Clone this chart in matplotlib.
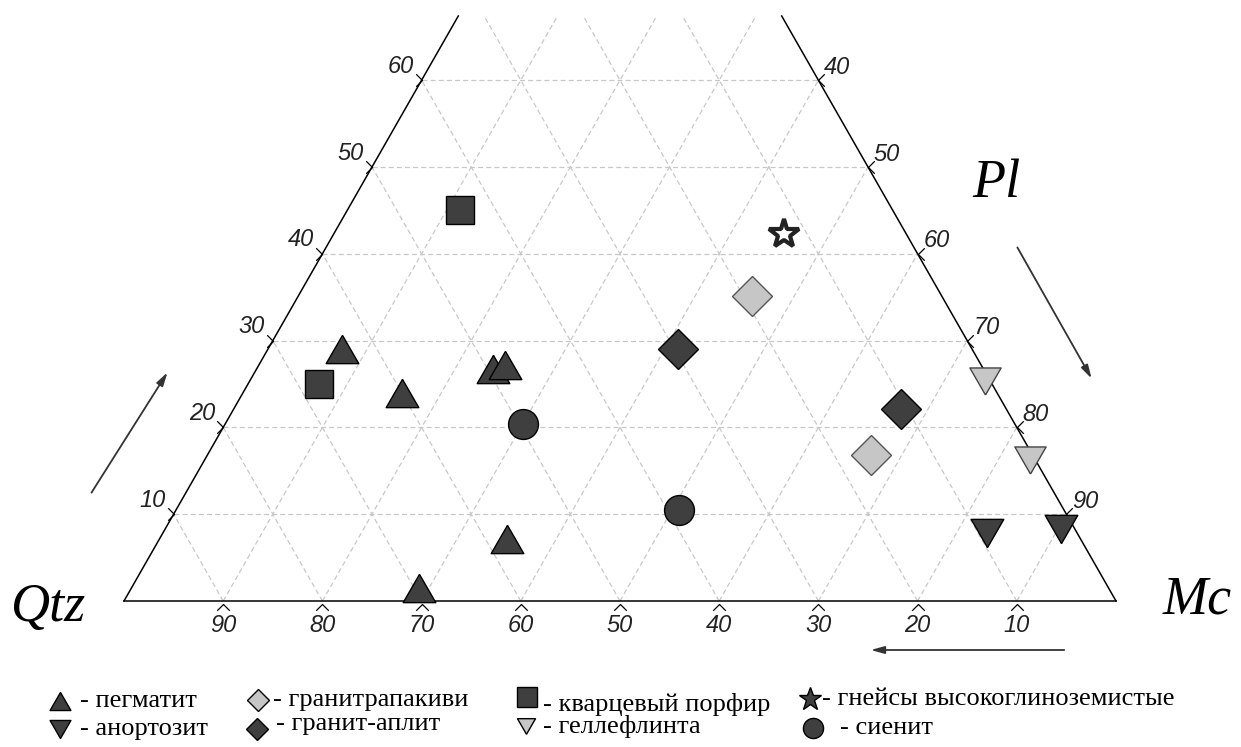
import numpy as np
import matplotlib
matplotlib.use("Agg")
import matplotlib.pyplot as plt
from matplotlib.path import Path

# ternary readings: (Qtz, Mc, Pl) in %
pegmatite = [(63.5, 7.5, 29.0), (60.0, 16.0, 24.0), (49.5, 23.8, 26.7),
             (48.0, 24.8, 27.2), (57.8, 35.1, 7.1), (69.5, 29.0, 1.5)]
anorthosite = [(9.1, 83.1, 7.8), (1.4, 90.3, 8.3)]
rapakivi = [(19.1, 45.8, 35.1), (16.3, 66.9, 16.8)]
aplite = [(29.7, 41.3, 29.0), (10.6, 67.3, 22.1)]
porphyry = [(43.6, 11.4, 45.0), (67.8, 7.2, 25.0)]
halleflinta = [(0.5, 74.1, 25.4), (0.5, 83.2, 16.3)]
gneiss = [(12.3, 45.4, 42.3)]
syenite = [(49.6, 30.0, 20.4), (38.8, 50.7, 10.5)]

grid_ticks = [10, 20, 30, 40, 50, 60, 70, 80, 90]
pl_max = 67.4

W, H = 1241, 747
DARK = "#3f3f3f"
LIGHT = "#c6c6c6"

tri_up = Path([(0, 0.866), (-1, -0.866), (1, -0.866), (0, 0.866)])
tri_dn = Path([(0, -0.866), (-1, 0.866), (1, 0.866), (0, -0.866)])
chev_up = Path([(-1, -1), (0, 0), (1, -1)], [Path.MOVETO, Path.LINETO, Path.LINETO])
chev_right = Path([(-1, 1), (0, 0), (-1, -1)], [Path.MOVETO, Path.LINETO, Path.LINETO])
chev_left = Path([(1, 1), (0, 0), (1, -1)], [Path.MOVETO, Path.LINETO, Path.LINETO])


def to_xy(pts):
    a = np.array(pts, dtype=float)
    return a[:, 1] + a[:, 2] / 2, a[:, 2]


def fpos(x, y):
    return x / W, 1 - y / H


fig = plt.figure(figsize=(W / 100, H / 100), dpi=100)
ax = fig.add_axes([0, 0, 1, 1])
ax.set_xlim(-124 / 9.92, (W - 124) / 9.92)
ax.set_ylim((601 - H) / 8.68, 601 / 8.68)
ax.axis("off")

# grid
gkw = dict(color="#c8c8c8", lw=0.9, ls=(0, (4, 2.5)), zorder=1)
for t in grid_ticks:
    if t < pl_max:
        ax.plot([t / 2, 100 - t / 2], [t, t], **gkw)
    top = min(100 - t, pl_max)
    ax.plot([t, t + top / 2], [0, top], **gkw)
    ax.plot([100 - t, 100 - t - top / 2], [0, top], **gkw)

# edges
ekw = dict(color="black", lw=1.1, zorder=2)
ax.plot([0, 100], [0, 0], **ekw)
ax.plot([0, pl_max / 2], [0, pl_max], **ekw)
ax.plot([100, 100 - pl_max / 2], [0, pl_max], **ekw)

# ticks and labels
tfont = dict(family=["Liberation Sans Narrow", "Liberation Sans"], style="italic",
             fontsize=17, color="#222222")
ckw = dict(ls="none", mfc="none", mec="black", mew=0.9, ms=9, zorder=3)
for t in grid_ticks:
    ax.plot([100 - t], [-0.3], marker=chev_up, **ckw)
    ax.annotate(str(t), (100 - t, 0), xytext=(0, -24), textcoords="offset pixels",
                ha="center", va="center", **tfont)
    if t < pl_max:
        ax.plot([t / 2], [t], marker=chev_right, **ckw)
        ax.annotate(str(t), (t / 2, t), xytext=(-21, 14), textcoords="offset pixels",
                    ha="center", va="center", **tfont)
        ax.plot([100 - t / 2], [t], marker=chev_left, **ckw)
        ax.annotate(str(100 - t), (100 - t / 2, t), xytext=(19, 13), textcoords="offset pixels",
                    ha="center", va="center", **tfont)

# corner labels
cfont = dict(family="Liberation Serif", style="italic", fontsize=39, color="black")
fig.text(*fpos(48, 621), "Qtz", ha="center", va="baseline", **cfont)
fig.text(*fpos(996, 197), "Pl", ha="center", va="baseline", **cfont)
fig.text(*fpos(1197, 613), "Mc", ha="center", va="baseline", **cfont)

# direction arrows
akw = dict(arrowstyle="-|>,head_length=0.8,head_width=0.22", color="#333333", lw=1.3)
for tail, head in [((90, 495), (169, 370)), ((1016, 245), (1093, 381)), ((1067, 650), (868, 650))]:
    ax.annotate("", xy=fpos(*head), xycoords="figure fraction",
                xytext=fpos(*tail), textcoords="figure fraction", arrowprops=akw)

# data points
groups = [
    (pegmatite, tri_up, 23.5, DARK, "black", 1.0),
    (anorthosite, tri_dn, 23.5, DARK, "black", 1.0),
    (halleflinta, tri_dn, 22.5, LIGHT, "#444444", 1.0),
    (rapakivi, "D", 20, LIGHT, "#555555", 1.0),
    (aplite, "D", 20, DARK, "black", 1.0),
    (porphyry, "s", 20, DARK, "black", 1.0),
    (syenite, "o", 21.5, DARK, "black", 1.0),
    (gneiss, "*", 22, "white", "#222222", 3.0),
]
for pts, mk, ms, fc, ec, mew in groups:
    x, y = to_xy(pts)
    ax.plot(x, y, ls="none", marker=mk, ms=ms, mfc=fc, mec=ec, mew=mew, zorder=5)

# legend
lfont = dict(family="Liberation Serif", fontsize=19, color="black")
legend_items = [
    (tri_up, 15, DARK, 60, 701, 80, 701, "- пегматит"),
    (tri_dn, 15, DARK, 60, 729, 80, 729, "- анортозит"),
    ("D", 11.5, LIGHT, 258, 700, 273, 700, "- гранитрапакиви"),
    ("D", 11.5, DARK, 257, 729, 276, 724, "- гранит-аплит"),
    ("s", 14, DARK, 527, 697, 543, 705, "- кварцевый порфир"),
    (tri_dn, 13, LIGHT, 526, 726, 543, 727, "- геллефлинта"),
    ("*", 17, DARK, 810, 699, 822, 699, "- гнейсы высокоглиноземистые"),
    ("o", 14.5, DARK, 813, 728, 840, 728, "- сиенит"),
]
for mk, ms, fc, mx, my, tx, ty, label in legend_items:
    ax.plot([mx / W], [1 - my / H], transform=fig.transFigure, ls="none", marker=mk,
            ms=ms, mfc=fc, mec="black", mew=1.0, clip_on=False)
    fig.text(*fpos(tx, ty), label, ha="left", va="center", **lfont)

fig.savefig("out.png", dpi=100, facecolor="white")
